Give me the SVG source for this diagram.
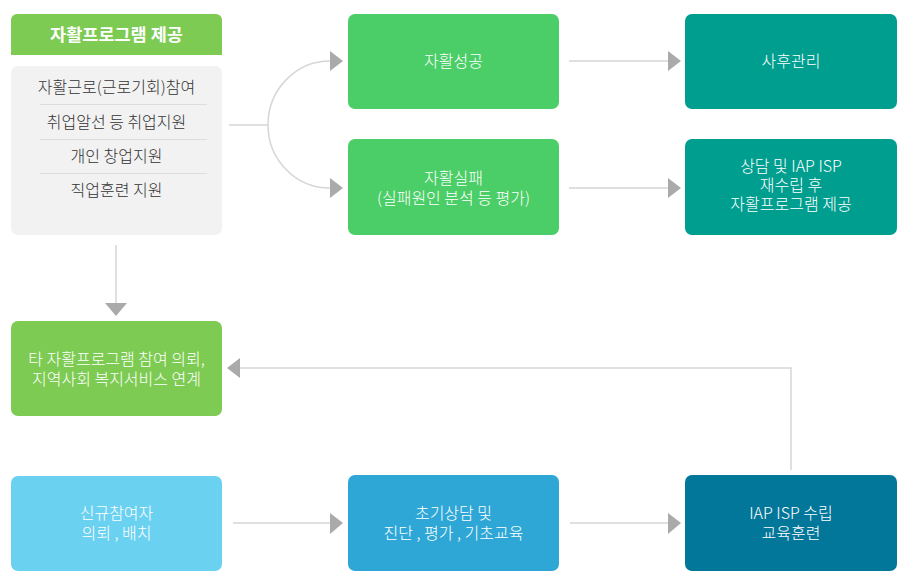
<svg xmlns="http://www.w3.org/2000/svg" width="919" height="582" viewBox="0 0 919 582">
<defs>
<style>
.t{font-family:"Noto Sans CJK KR","Noto Sans",sans-serif;font-size:16px;font-weight:300;fill:#fff;text-anchor:middle;}
.g{font-family:"Noto Sans CJK KR","Noto Sans",sans-serif;font-size:16px;font-weight:300;fill:#333;text-anchor:middle;}
.h{font-family:"Noto Sans CJK KR","Noto Sans",sans-serif;font-size:17.5px;font-weight:bold;fill:#fff;text-anchor:middle;}
.ln{fill:none;stroke:#d6d6d6;stroke-width:1.5;}
.ah{fill:#aaaaaa;}
.dv{stroke:#dddddd;stroke-width:1;}
</style>
</defs>
<rect width="919" height="582" fill="#fff"/>
<g id="connectors">
<path class="ln" d="M229,125 H268"/>
<path class="ln" d="M268,125 A62,64 0 0 1 331,61"/>
<path class="ln" d="M268,125 A62,63 0 0 0 331,188"/>
<polygon class="ah" points="330,51 343,61 330,71"/>
<polygon class="ah" points="330,178 343,188 330,198"/>
<path class="ln" d="M569,61 H669"/>
<polygon class="ah" points="668,51 681,61 668,71"/>
<path class="ln" d="M569,188 H669"/>
<polygon class="ah" points="668,178 681,188 668,198"/>
<path class="ln" d="M116,245 V304"/>
<polygon class="ah" points="105,303 127,303 116,316"/>
<path class="ln" d="M791,470 V368 H239"/>
<polygon class="ah" points="240,358 227,368 240,378"/>
<path class="ln" d="M233,523 H331"/>
<polygon class="ah" points="330,513 343,523 330,534"/>
<path class="ln" d="M570,523 H669"/>
<polygon class="ah" points="668,513 681,523 668,534"/>
</g>
<g id="program">
<path d="M11,20 a6,6 0 0 1 6,-6 H216 a6,6 0 0 1 6,6 V55 H11 Z" fill="#7dcb53"/>
<text class="h" x="116.5" y="41">자활프로그램 제공</text>
<rect x="11" y="66" width="211" height="169" rx="7" fill="#f2f2f2"/>
<text class="g" x="116.5" y="93">자활근로(근로기회)참여</text>
<line class="dv" x1="40" y1="104.5" x2="207" y2="104.5"/>
<text class="g" x="116.5" y="128">취업알선 등 취업지원</text>
<line class="dv" x1="40" y1="139.5" x2="207" y2="139.5"/>
<text class="g" x="116.5" y="162">개인 창업지원</text>
<line class="dv" x1="40" y1="173.5" x2="207" y2="173.5"/>
<text class="g" x="116.5" y="196">직업훈련 지원</text>
</g>
<g id="success">
<rect x="348" y="14" width="211" height="95" rx="7" fill="#4bce67"/>
<text class="t" x="453.5" y="67">자활성공</text>
</g>
<g id="fail">
<rect x="348" y="139" width="211" height="96" rx="7" fill="#4bce67"/>
<text class="t" x="453.5" y="184">자활실패</text>
<text class="t" x="453.5" y="204">(실패원인 분석 등 평가)</text>
</g>
<g id="aftercare">
<rect x="685" y="14" width="212" height="95" rx="7" fill="#009e8f"/>
<text class="t" x="791" y="67">사후관리</text>
</g>
<g id="replan">
<rect x="685" y="139" width="212" height="96" rx="7" fill="#009e8f"/>
<text class="t" x="791" y="172">상담 및 IAP ISP</text>
<text class="t" x="791" y="191">재수립 후</text>
<text class="t" x="791" y="210">자활프로그램 제공</text>
</g>
<g id="referral">
<rect x="11" y="321" width="211" height="95" rx="7" fill="#7dcb53"/>
<text class="t" x="116.5" y="365">타 자활프로그램 참여 의뢰,</text>
<text class="t" x="116.5" y="385">지역사회 복지서비스 연계</text>
</g>
<g id="newcomer">
<rect x="11" y="476" width="211" height="95" rx="7" fill="#6ad1f1"/>
<text class="t" x="116.5" y="519">신규참여자</text>
<text class="t" x="116.5" y="539">의뢰 , 배치</text>
</g>
<g id="initial">
<rect x="348" y="475" width="211" height="96" rx="7" fill="#2ea7d6"/>
<text class="t" x="453.5" y="519">초기상담 및</text>
<text class="t" x="453.5" y="539">진단 , 평가 , 기초교육</text>
</g>
<g id="iap">
<rect x="685" y="475" width="212" height="96" rx="7" fill="#037799"/>
<text class="t" x="791" y="519">IAP ISP 수립</text>
<text class="t" x="791" y="539">교육훈련</text>
</g>
</svg>
